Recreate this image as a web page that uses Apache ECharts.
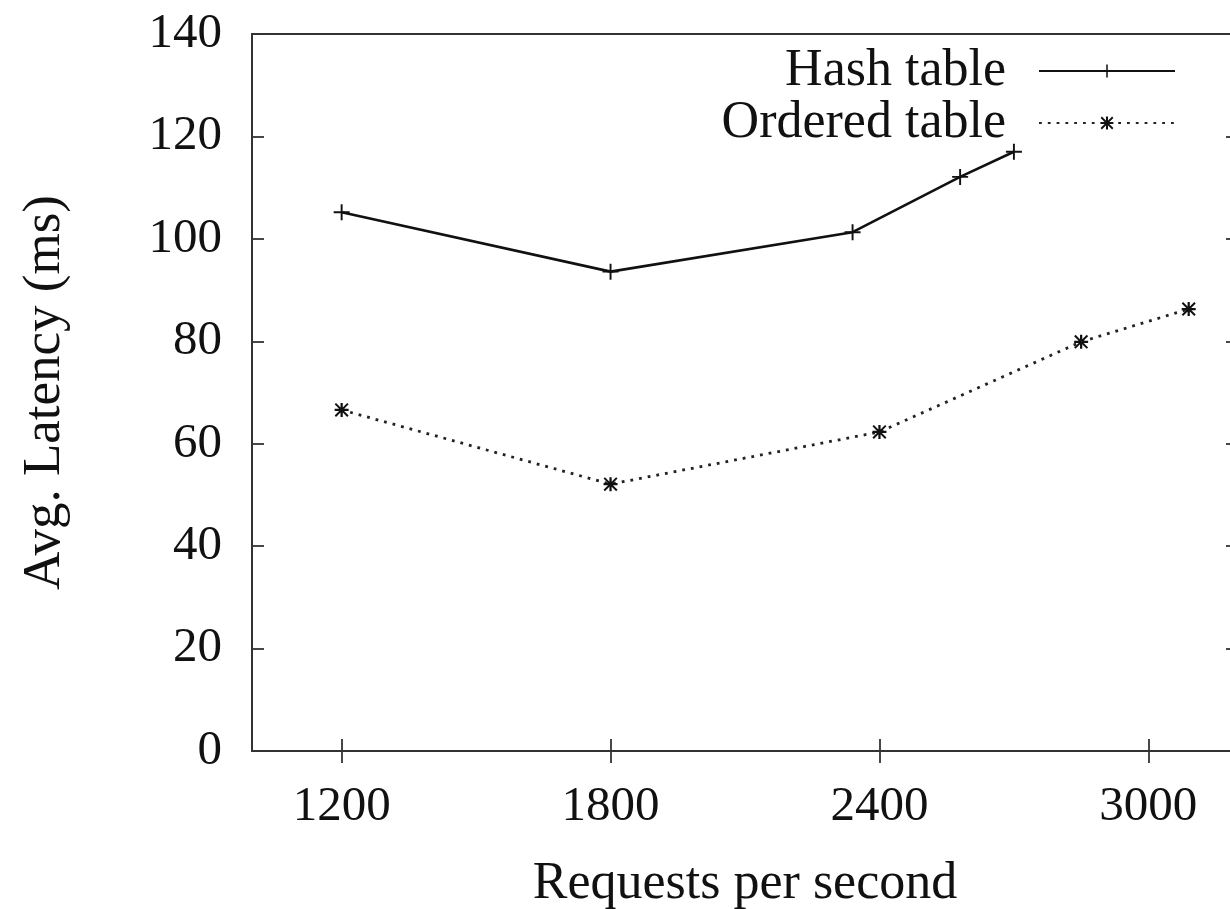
<!DOCTYPE html>
<html>
<head>
<meta charset="utf-8">
<script src="https://cdn.jsdelivr.net/npm/echarts@6/dist/echarts.min.js"></script>
<style>
html,body{margin:0;padding:0;background:#fff;}
#chart{width:1230px;height:909px;}
</style>
</head>
<body>
<div id="chart"></div>
<script>
// Data
const seriesNames = ['Hash table', 'Ordered table'];
const hashX = [1200, 1800, 2340, 2580, 2700];
const hashY = [105.2, 93.6, 101.3, 112.1, 117.0];
const orderedX = [1200, 1800, 2400, 2850, 3090];
const orderedY = [66.6, 52.1, 62.3, 79.9, 86.3];
const xTicks = [1200, 1800, 2400, 3000];
const yTicks = [0, 20, 40, 60, 80, 100, 120, 140];
const xAxisTitle = 'Requests per second';
const yAxisTitle = 'Avg. Latency (ms)';

const FONT = 'Liberation Serif';
const TXT = '#111';
const plusPath = 'path://M0,44 L44,44 L44,0 L56,0 L56,44 L100,44 L100,56 L56,56 L56,100 L44,100 L44,56 L0,56 Z';
const starPath = 'path://M0,42 L100,42 L100,58 L0,58 Z M42,0 L58,0 L58,100 L42,100 Z M10,0 L100,90 L90,100 L0,10 Z M90,0 L100,10 L10,100 L0,90 Z';

function pairs(xs, ys) { return xs.map((x, i) => [x, ys[i]]); }
const plain = v => String(v);

const chart = echarts.init(document.getElementById('chart'), null, {renderer: 'canvas'});
const tickStyle = {show: true, inside: true, length: 12, lineStyle: {color: '#333', width: 1.8}};
const option = {
  backgroundColor: '#fff',
  animation: false,
  grid: {left: 252, top: 34, width: 986, height: 717, outerBoundsMode: 'none', containLabel: false,
    show: true, borderColor: '#333', borderWidth: 2, backgroundColor: 'transparent'},
  legend: {
    orient: 'vertical',
    right: 54,
    top: 45,
    padding: 0,
    align: 'right',
    itemWidth: 136,
    itemHeight: 16,
    itemGap: 0,
    data: seriesNames,
    selectedMode: false,
    textStyle: {fontFamily: FONT, fontSize: 52, color: TXT, lineHeight: 52, padding: [0, 28, 0, 0]}
  },
  xAxis: [{
    type: 'value', min: 1000, max: 3200, interval: 200,
    axisLine: {show: false}, splitLine: {show: false},
    axisTick: {show: true, inside: true, length: 12, lineStyle: {color: '#333', width: 1.8},
      customValues: xTicks},
    axisLabel: {fontFamily: FONT, fontSize: 49, color: TXT, margin: 32, customValues: xTicks, formatter: plain},
    name: xAxisTitle, nameLocation: 'middle', nameGap: 107,
    nameTextStyle: {fontFamily: FONT, fontSize: 52, color: TXT}
  }, {
    type: 'value', position: 'top', min: 1000, max: 3200, interval: 200,
    axisLine: {show: false}, splitLine: {show: false}, axisLabel: {show: false},
    axisTick: {show: true, inside: true, length: 12, lineStyle: {color: '#333', width: 1.8}, customValues: xTicks}
  }],
  yAxis: [{
    type: 'value', min: 0, max: 140, interval: 20,
    axisLine: {show: false}, splitLine: {show: false},
    axisTick: tickStyle,
    axisLabel: {fontFamily: FONT, fontSize: 49, color: TXT, margin: 30, customValues: yTicks, formatter: plain},
    name: yAxisTitle, nameLocation: 'middle', nameGap: 180, nameRotate: 90,
    nameTextStyle: {fontFamily: FONT, fontSize: 53, color: TXT}
  }, {
    type: 'value', position: 'right', min: 0, max: 140, interval: 20,
    axisLine: {show: false}, splitLine: {show: false}, axisLabel: {show: false},
    axisTick: tickStyle
  }],
  series: [{
    name: seriesNames[0], type: 'line', xAxisIndex: 0, yAxisIndex: 0,
    data: pairs(hashX, hashY),
    symbol: plusPath, symbolSize: 16, showAllSymbol: true,
    lineStyle: {color: '#111', width: 2.6, type: 'solid'},
    itemStyle: {color: '#111'},
    emphasis: {disabled: true}
  }, {
    name: seriesNames[1], type: 'line', xAxisIndex: 0, yAxisIndex: 0,
    data: pairs(orderedX, orderedY),
    symbol: starPath, symbolSize: 14, showAllSymbol: true,
    lineStyle: {color: '#222', width: 2.8, type: [2.8, 6]},
    itemStyle: {color: '#111'},
    emphasis: {disabled: true}
  }]
};
chart.setOption(option);
</script>
</body>
</html>
